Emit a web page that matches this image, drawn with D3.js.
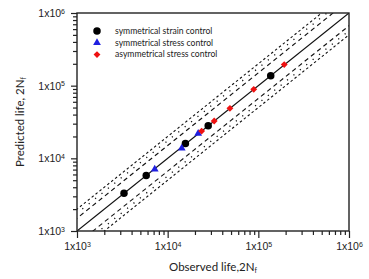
<!DOCTYPE html>
<html>
<head>
<meta charset="utf-8">
<script src="https://cdn.jsdelivr.net/npm/d3@7"></script>
<style>
  body { margin: 0; background: #fff; }
  svg { font-family: Lato, "Open Sans", sans-serif; }
  .axis path { display: none; }
  .axis line { stroke: #222; stroke-width: 1.2; }
  .axis text { fill: #222; font-size: 10.5px; }
</style>
</head>
<body>
<div id="chart"></div>
<script>
/* data: [observed, predicted] */
const strainControl = [[3300, 3300], [5800, 5800], [15700, 16000], [28000, 28000], [137000, 137000]];
const stressControl = [[7200, 7100], [14300, 13800], [21700, 22000]];
const asymStressControl = [[23700, 23700], [32600, 32600], [48600, 48700], [89000, 89000], [193000, 195000]];

const legendLabels = ["symmetrical strain control", "symmetrical stress control", "asymmetrical stress control"];
const bandFactors = [1.5, 1.75, 2];   // scatter bands around the 1:1 line
const decades = [3, 4, 5, 6];

const width = 369, height = 279,
  margin = { top: 13, right: 20, bottom: 48, left: 77 };

const svg = d3.select("#chart").append("svg")
  .attr("width", width)
  .attr("height", height);

const x = d3.scaleLog().domain([1e3, 1e6]).range([margin.left, width - margin.right]);
const y = d3.scaleLog().domain([1e3, 1e6]).range([height - margin.bottom, margin.top]);

// all tick values: 1..9 x 10^k
const tickVals = [];
decades.forEach(k => {
  for (let m = 1; m <= 9; m++) {
    if (k === 6 && m > 1) break;
    tickVals.push(m * Math.pow(10, k));
  }
});
const isMajor = v => Math.abs(Math.log10(v) - Math.round(Math.log10(v))) < 1e-9;

function supLabel(sel) {
  sel.each(function(d) {
    const t = d3.select(this).text("");
    if (!isMajor(d)) return;
    t.append("tspan").text("1x10");
    t.append("tspan").attr("font-size", "7px").attr("dy", "-0.45em").text(Math.round(Math.log10(d)));
  });
}

// x axis
const gx = svg.append("g")
  .attr("class", "axis x-axis")
  .attr("transform", `translate(0,${y(1e3)})`)
  .call(d3.axisBottom(x).tickValues(tickVals).tickSize(6).tickPadding(4));
gx.selectAll(".tick line").attr("y2", d => isMajor(d) ? 7 : 4);
gx.selectAll(".tick text").attr("dy", "0.9em").call(supLabel);

// y axis
const gy = svg.append("g")
  .attr("class", "axis y-axis")
  .attr("transform", `translate(${x(1e3)},0)`)
  .call(d3.axisLeft(y).tickValues(tickVals).tickSize(6).tickPadding(6));
gy.selectAll(".tick line").attr("x2", d => isMajor(d) ? -6 : -4);
gy.selectAll(".tick text").call(supLabel);

// clip for lines
svg.append("clipPath").attr("id", "plot-clip")
  .append("rect")
  .attr("x", x(1e3)).attr("y", y(1e6))
  .attr("width", x(1e6) - x(1e3)).attr("height", y(1e3) - y(1e6));

const lineGen = d3.line().x(d => x(d[0])).y(d => y(d[1]));
const lines = svg.append("g").attr("clip-path", "url(#plot-clip)");

const dashFor = { 1.5: "4.5,3.5", 1.75: "1.2,7", 2: "2.5,2.5" };
bandFactors.forEach(f => {
  [f, 1 / f].forEach(k => {
    lines.append("path")
      .attr("d", lineGen([[1e2, 1e2 * k], [1e7, 1e7 * k]]))
      .attr("fill", "none")
      .attr("stroke", "#111")
      .attr("stroke-width", f === 1.75 ? 1.3 : 1.1)
      .attr("stroke-dasharray", dashFor[f]);
  });
});
lines.append("path")
  .attr("d", lineGen([[1e3, 1e3], [1e6, 1e6]]))
  .attr("fill", "none")
  .attr("stroke", "#111")
  .attr("stroke-width", 1.2);

// markers
const circle = d3.symbol().type(d3.symbolCircle).size(44);
const tri = d3.symbol().type(d3.symbolTriangle).size(26);
const diamond = d3.symbol().type(d3.symbolDiamond2).size(30);

const pts = svg.append("g");
pts.selectAll("path.strain")
  .data(strainControl)
  .join("path")
  .attr("class", "strain")
  .attr("d", circle)
  .attr("transform", d => `translate(${x(d[0])},${y(d[1])})`)
  .attr("fill", "#000");
pts.selectAll("path.stress")
  .data(stressControl)
  .join("path")
  .attr("class", "stress")
  .attr("d", tri)
  .attr("transform", d => `translate(${x(d[0])},${y(d[1])})`)
  .attr("fill", "#1f1fe0");
pts.selectAll("path.asym")
  .data(asymStressControl)
  .join("path")
  .attr("class", "asym")
  .attr("d", diamond)
  .attr("transform", d => `translate(${x(d[0])},${y(d[1])})`)
  .attr("fill", "#ee1111");

// frame
svg.append("rect")
  .attr("x", x(1e3)).attr("y", y(1e6))
  .attr("width", x(1e6) - x(1e3)).attr("height", y(1e3) - y(1e6))
  .attr("fill", "none")
  .attr("stroke", "#222")
  .attr("stroke-width", 1.4);

// legend
const legendSyms = [circle, tri, diamond];
const legendColors = ["#000", "#1f1fe0", "#ee1111"];
const legend = svg.append("g").attr("transform", "translate(97,31)");
legendLabels.forEach((lab, i) => {
  const row = legend.append("g").attr("transform", `translate(0,${i * 11.8})`);
  row.append("path").attr("d", legendSyms[i]).attr("fill", legendColors[i]);
  row.append("text")
    .attr("x", 18).attr("dy", "0.33em")
    .attr("font-size", "8.6px")
    .attr("fill", "#222")
    .text(lab);
});

// axis titles
const xt = svg.append("text")
  .attr("x", (x(1e3) + x(1e6)) / 2)
  .attr("y", 271)
  .attr("text-anchor", "middle")
  .attr("font-size", "11.5px")
  .attr("fill", "#222");
xt.append("tspan").text("Observed life,2N");
xt.append("tspan").attr("font-size", "7px").attr("dy", "0.35em").text("f");

const yt = svg.append("text")
  .attr("transform", `translate(24,${(y(1e3) + y(1e6)) / 2}) rotate(-90)`)
  .attr("text-anchor", "middle")
  .attr("font-size", "11.5px")
  .attr("fill", "#222");
yt.append("tspan").text("Predicted life, 2N");
yt.append("tspan").attr("font-size", "7px").attr("dy", "0.35em").text("f");
</script>
</body>
</html>
